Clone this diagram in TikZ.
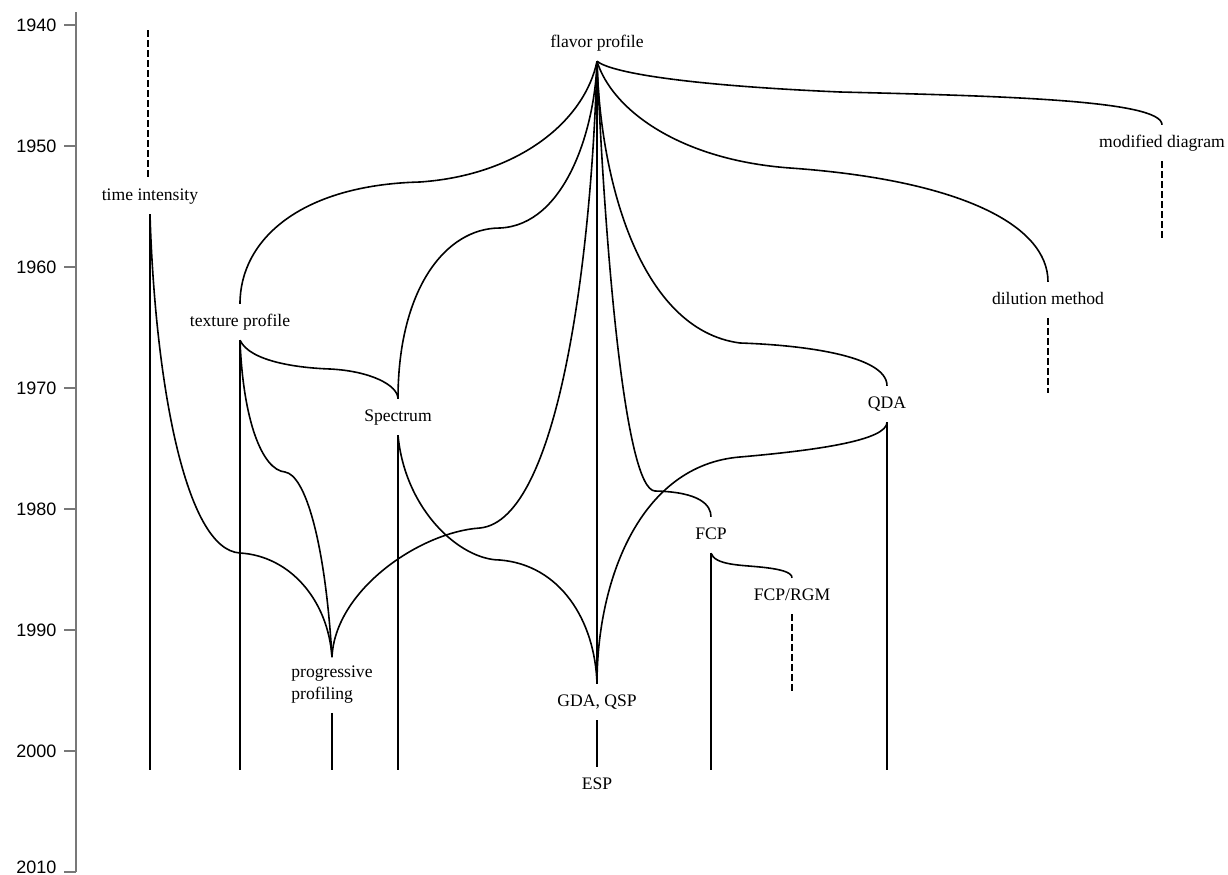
\documentclass[tikz,border=0pt]{standalone}
\usepackage{fontspec}
\setmainfont{Liberation Serif}
\newfontfamily\yearfont{Liberation Sans}
\usepackage{tikz}
\usetikzlibrary{calc}
\usepackage{xcolor}
\definecolor{axisgray}{RGB}{120,120,120}
\newcommand{\lblsize}{\fontsize{17.6bp}{22bp}\selectfont}
\newcommand{\yrsize}{\yearfont\fontsize{18bp}{20bp}\selectfont}

\begin{document}
\begin{tikzpicture}[x=1bp,y=-1bp,
  meth/.style={font=\lblsize,inner xsep=0pt,inner ysep=10bp,text height=12bp,text depth=4bp},
  branch/.style={line width=1.6bp},
  trail/.style={line width=1.6bp,dash pattern=on 6.5bp off 3.5bp}]
  \useasboundingbox (0,0) rectangle (1228,875);
  % time axis
  \begin{scope}[axisgray,line width=1.1bp]
    \draw (76,12) -- (76,872);
    \foreach \yr [count=\i from 0] in {1940,1950,...,2010}{
      \pgfmathsetmacro\ty{min(25+121*\i,867)}
      \draw (64,25+121*\i) -- (76,25+121*\i);
      \node[anchor=east,inner sep=0pt,black,font=\yrsize] (yr\yr) at (57,\ty) {\yr};
    }
  \end{scope}
  % methods
  \node[meth] (fp) at (597,43) {flavor profile};
  \node[meth] (ti) at (150,196) {time intensity};
  \node[meth] (tp) at (240,322) {texture profile};
  \node[meth] (sp) at (398,417) {Spectrum};
  \node[meth] (dm) at (1048,300) {dilution method};
  \node[meth] (md) at (1162,143) {modified diagram};
  \node[meth] (qda) at (887,404) {QDA};
  \node[meth] (fcp) at (711,535) {FCP};
  \node[meth] (rgm) at (792,596) {FCP/RGM};
  \node[meth] (gda) at (597,702) {GDA, QSP};
  \node[meth] (esp) at (597,785) {ESP};
  \node[meth,align=left,text height={},text depth={},inner ysep=9bp] (pp) at (332,685) {progressive\\profiling};
  % stems down to 2000
  \coordinate (base) at (0,770);
  \foreach \n in {ti,tp,pp,sp,fcp,qda}{
    \coordinate (\n-end) at (\n.south |- base);
    \draw[branch] (\n.south) -- (\n-end);
  }
  \draw[branch] (gda.south) -- (esp.north);
  % dashed stretches
  \coordinate (ti-start) at (148,30);
  \coordinate (md-end) at (1162,240);
  \coordinate (dm-end) at (1048,393);
  \coordinate (rgm-end) at (792,692);
  \draw[trail] (ti-start) -- (ti-start |- ti.north);
  \draw[trail] (md.south) -- (md-end);
  \draw[trail] (dm.south) -- (dm-end);
  \draw[trail] (rgm.south) -- (rgm-end);
  % out of the flavor profile
  \draw[branch] (fp.south) .. controls (610,72) and (680,85) .. (840,92)
    .. controls (1000,96) and (1162,100) .. (md.north);
  \draw[branch] (fp.south) .. controls (612,110) and (680,160) .. (790,168)
    .. controls (960,180) and (1048,225) .. (dm.north);
  \draw[branch] (fp.south) .. controls (600,180) and (640,330) .. (740,343)
    .. controls (800,345) and (887,355) .. (qda.north);
  \draw[branch] (fp.south) .. controls (605,250) and (625,490) .. (655,491)
    .. controls (700,492) and (711,505) .. (fcp.north);
  \draw[branch] (fp.south) -- (gda.north);
  \draw[branch] (fp.south) .. controls (592,250) and (560,520) .. (480,528)
    .. controls (420,532) and (335,590) .. (pp.north);
  \draw[branch] (fp.south) .. controls (595,130) and (565,225) .. (500,228)
    .. controls (445,228) and (398,290) .. (sp.north);
  \draw[branch] (fp.south) .. controls (585,120) and (520,175) .. (420,182)
    .. controls (300,185) and (240,240) .. (tp.north);
  % later branches
  \draw[branch] (ti.south) .. controls (155,380) and (185,550) .. (240,553)
    .. controls (290,556) and (328,600) .. (pp.north);
  \draw[branch] (tp.south) .. controls (250,362) and (300,368) .. (330,369)
    .. controls (370,371) and (398,385) .. (sp.north);
  \draw[branch] (tp.south) .. controls (243,420) and (262,470) .. (285,472)
    .. controls (305,475) and (325,540) .. (pp.north);
  \draw[branch] (sp.south) .. controls (405,510) and (460,560) .. (500,560)
    .. controls (560,565) and (595,620) .. (gda.north);
  \draw[branch] (qda.south) .. controls (887,440) and (820,450) .. (740,457)
    .. controls (640,465) and (597,580) .. (gda.north);
  \draw[branch] (fcp.south) .. controls (715,565) and (740,565) .. (760,567)
    .. controls (780,569) and (792,572) .. (rgm.north);
\end{tikzpicture}
\end{document}
